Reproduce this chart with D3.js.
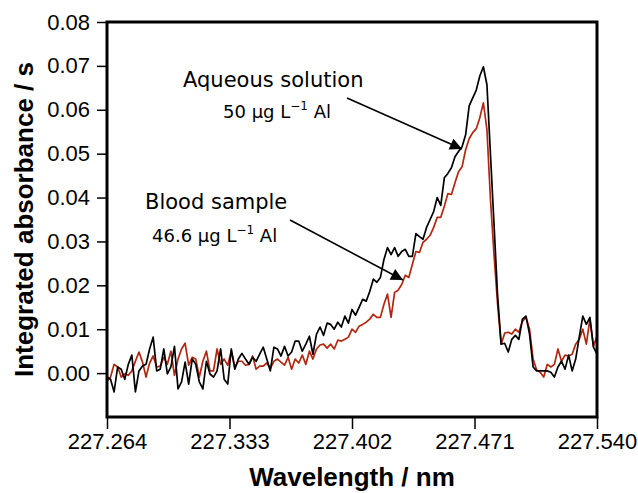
<!DOCTYPE html>
<html>
<head>
<meta charset="utf-8">
<script src="https://cdn.jsdelivr.net/npm/d3@7"></script>
<style>
  body { margin: 0; background: #fff; }
  svg { display: block; }
</style>
</head>
<body>
<div id="chart"></div>
<script>
// spectrum sampled every 0.002 nm from 227.264 nm
const wlStart = 227.264;
const wlStep = 0.002;

const xTicks = [227.264, 227.333, 227.402, 227.471, 227.540];
const yTicks = [0.00, 0.01, 0.02, 0.03, 0.04, 0.05, 0.06, 0.07, 0.08];

// Aqueous solution, 50 µg/L Al (black)
const aqueous = [
  -0.0009, -0.0014, -0.0043, 0.0014, 0.0009, -0.0014, 0.0020, 0.0041, -0.0043, 0.0005,
  0.0016, 0.0020, 0.0055, 0.0082, 0.0005, 0.0009, 0.0055, -0.0002, 0.0014, 0.0061,
  -0.0036, -0.0020, 0.0025, -0.0025, 0.0032, 0.0020, -0.0020, -0.0036, 0.0027, -0.0002,
  -0.0009, 0.0005, 0.0055, -0.0014, -0.0025, 0.0055, 0.0009, 0.0032, 0.0045, 0.0032,
  0.0020, 0.0036, 0.0027, 0.0043, 0.0059, 0.0032, 0.0005, 0.0059, 0.0055, 0.0039,
  0.0061, 0.0039, 0.0048, 0.0073, 0.0073, 0.0050, 0.0066, 0.0084, 0.0043, 0.0089,
  0.0105, 0.0086, 0.0114, 0.0111, 0.0100, 0.0116, 0.0105, 0.0130, 0.0114, 0.0145,
  0.0132, 0.0150, 0.0168, 0.0164, 0.0186, 0.0214, 0.0207, 0.0218, 0.0259, 0.0286,
  0.0270, 0.0286, 0.0266, 0.0277, 0.0282, 0.0266, 0.0266, 0.0318, 0.0311, 0.0305,
  0.0332, 0.0350, 0.0368, 0.0400, 0.0382, 0.0445, 0.0455, 0.0468, 0.0493, 0.0505,
  0.0516, 0.0543, 0.0609, 0.0627, 0.0645, 0.0677, 0.0698, 0.0657, 0.0498, 0.0339,
  0.0177, 0.0066, 0.0068, 0.0048, 0.0077, 0.0086, 0.0077, 0.0123, 0.0130, 0.0089,
  0.0014, 0.0005, 0.0005, 0.0005, 0.0005, 0.0002, -0.0009, 0.0014, 0.0027, 0.0009,
  0.0041, 0.0005, 0.0032, 0.0082, 0.0130, 0.0111, 0.0127, 0.0059, 0.0043
];

// Blood sample, 46.6 µg/L Al (red)
const blood = [
  -0.0018, -0.0009, 0.0020, 0.0014, -0.0009, -0.0002, -0.0005, 0.0005, 0.0027, 0.0048,
  0.0025, -0.0009, 0.0023, 0.0039, 0.0014, 0.0016, 0.0036, 0.0020, 0.0050, -0.0005,
  0.0032, 0.0055, 0.0068, 0.0018, 0.0036, 0.0032, -0.0009, 0.0027, 0.0050, 0.0005,
  0.0005, 0.0055, 0.0020, 0.0032, 0.0018, 0.0050, 0.0014, 0.0027, 0.0027, 0.0018,
  0.0020, 0.0039, 0.0009, 0.0016, 0.0016, 0.0023, 0.0011, 0.0027, 0.0032, 0.0025,
  0.0018, 0.0036, 0.0009, 0.0032, 0.0023, 0.0041, 0.0020, 0.0050, 0.0032, 0.0055,
  0.0064, 0.0066, 0.0057, 0.0066, 0.0055, 0.0075, 0.0073, 0.0077, 0.0082, 0.0100,
  0.0093, 0.0107, 0.0111, 0.0116, 0.0123, 0.0134, 0.0127, 0.0127, 0.0157, 0.0180,
  0.0127, 0.0184, 0.0189, 0.0202, 0.0223, 0.0218, 0.0248, 0.0277, 0.0275, 0.0298,
  0.0305, 0.0314, 0.0332, 0.0355, 0.0355, 0.0380, 0.0409, 0.0407, 0.0434, 0.0459,
  0.0470, 0.0509, 0.0534, 0.0548, 0.0557, 0.0582, 0.0616, 0.0555, 0.0395, 0.0270,
  0.0157, 0.0066, 0.0091, 0.0093, 0.0089, 0.0100, 0.0093, 0.0118, 0.0127, 0.0100,
  0.0032, 0.0007, 0.0002, -0.0009, 0.0020, 0.0014, 0.0020, 0.0055, 0.0027, 0.0041,
  0.0039, 0.0043, 0.0066, 0.0077, 0.0100, 0.0066, 0.0123, 0.0061, 0.0084
];

const width = 638, height = 493;
const margin = { top: 22, right: 41, bottom: 76, left: 107 };
const innerW = width - margin.left - margin.right;
const innerH = height - margin.top - margin.bottom;

const svg = d3.select("#chart")
  .append("svg")
  .attr("width", width)
  .attr("height", height);

const g = svg.append("g")
  .attr("transform", `translate(${margin.left},${margin.top})`);

const x = d3.scaleLinear()
  .domain([227.264, 227.540])
  .range([0, innerW]);

const y = d3.scaleLinear()
  .domain([-0.01, 0.08])
  .range([innerH, 0]);

const wl = i => wlStart + i * wlStep;

// axes
const xAxis = g.append("g")
  .attr("transform", `translate(0,${innerH})`)
  .call(d3.axisBottom(x).tickValues(xTicks).tickFormat(d3.format(".3f"))
    .tickSize(12).tickSizeOuter(0).tickPadding(4));

const yAxis = g.append("g")
  .call(d3.axisLeft(y).tickValues(yTicks).tickFormat(d3.format(".2f"))
    .tickSize(10).tickSizeOuter(0).tickPadding(7));

[xAxis, yAxis].forEach(ax => {
  ax.select(".domain").remove();
  ax.selectAll("line").attr("stroke", "#000").attr("stroke-width", 1.5);
  ax.selectAll("text")
    .attr("fill", "#000")
    .style("font-family", "'Liberation Sans', Arial, sans-serif")
    .style("font-size", "22px");
});

// lines
const line = d3.line()
  .x((d, i) => x(wl(i)))
  .y(d => y(d));

g.append("path")
  .datum(blood)
  .attr("fill", "none")
  .attr("stroke", "#b3260f")
  .attr("stroke-width", 1.7)
  .attr("stroke-linejoin", "round")
  .attr("d", line);

g.append("path")
  .datum(aqueous)
  .attr("fill", "none")
  .attr("stroke", "#000")
  .attr("stroke-width", 1.7)
  .attr("stroke-linejoin", "round")
  .attr("d", line);

// frame
g.append("rect")
  .attr("x", 0).attr("y", 0)
  .attr("width", innerW).attr("height", innerH)
  .attr("fill", "none")
  .attr("stroke", "#000")
  .attr("stroke-width", 3);

// axis titles
svg.append("text")
  .attr("x", margin.left + innerW / 2)
  .attr("y", 486)
  .attr("text-anchor", "middle")
  .style("font-family", "'Liberation Sans', Arial, sans-serif")
  .style("font-weight", "bold")
  .style("font-size", "26px")
  .text("Wavelength / nm");

svg.append("text")
  .attr("transform", `translate(33,${margin.top + innerH / 2}) rotate(-90)`)
  .attr("text-anchor", "middle")
  .style("font-family", "'Liberation Sans', Arial, sans-serif")
  .style("font-weight", "bold")
  .style("font-size", "26px")
  .text("Integrated absorbance / s");

// annotations
svg.append("defs").append("marker")
  .attr("id", "arrow")
  .attr("viewBox", "0 0 10 10")
  .attr("refX", 10).attr("refY", 5)
  .attr("markerWidth", 19).attr("markerHeight", 12)
  .attr("markerUnits", "userSpaceOnUse")
  .attr("orient", "auto")
  .append("path")
  .attr("d", "M0,0 L10,5 L0,10 Z")
  .attr("fill", "#000");

const annFont = "'DejaVu Sans', Verdana, sans-serif";

function label(xp, yp, title, conc, cx, cy) {
  svg.append("text")
    .attr("x", xp).attr("y", yp)
    .style("font-family", annFont)
    .style("font-size", "21px")
    .text(title);
  const t = svg.append("text")
    .attr("x", cx).attr("y", cy)
    .style("font-family", annFont)
    .style("font-size", "18px");
  t.append("tspan").text(conc + " µg L");
  t.append("tspan").attr("dy", -8).style("font-size", "12px").text("−1");
  t.append("tspan").attr("dy", 8).text(" Al");
}

label(183, 87, "Aqueous solution", "50", 223, 118);
label(145, 209, "Blood sample", "46.6", 152, 242);

svg.append("line")
  .attr("x1", 347).attr("y1", 98)
  .attr("x2", 462).attr("y2", 149)
  .attr("stroke", "#000").attr("stroke-width", 1.6)
  .attr("marker-end", "url(#arrow)");

svg.append("line")
  .attr("x1", 290).attr("y1", 220)
  .attr("x2", 403).attr("y2", 280)
  .attr("stroke", "#000").attr("stroke-width", 1.6)
  .attr("marker-end", "url(#arrow)");
</script>
</body>
</html>
